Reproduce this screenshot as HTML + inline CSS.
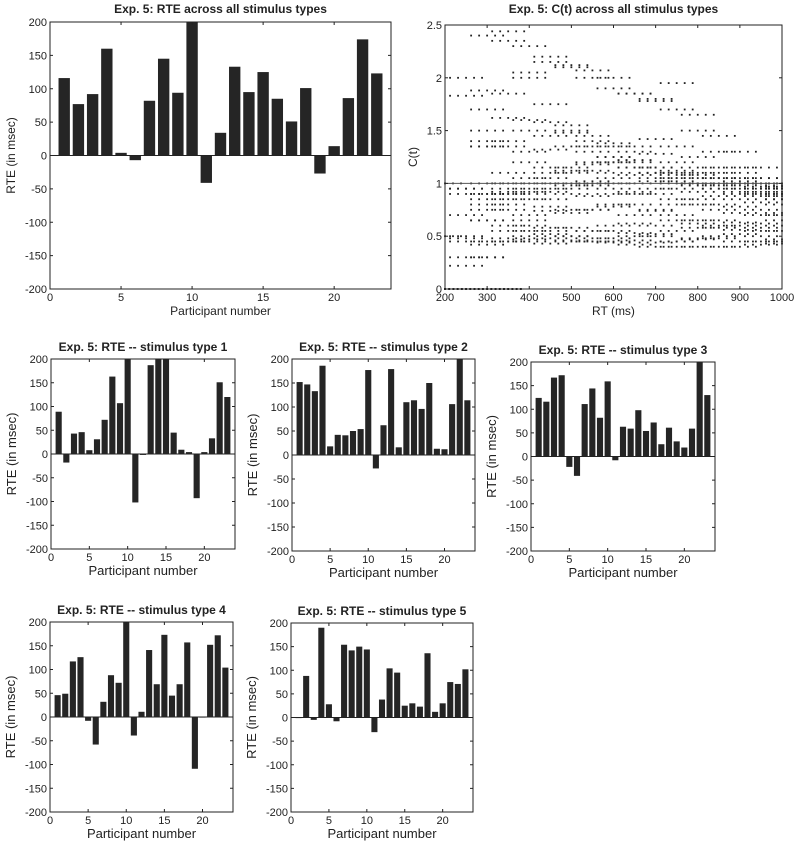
<!DOCTYPE html>
<html><head><meta charset="utf-8">
<style>
body{margin:0;background:#fff;}
svg{display:block;font-family:"Liberation Sans",Arial,sans-serif;}
</style></head>
<body>
<svg id="fig" width="800" height="851" viewBox="0 0 800 851" xmlns="http://www.w3.org/2000/svg"></svg>
<script>
const participants = [1,2,3,4,5,6,7,8,9,10,11,12,13,14,15,16,17,18,19,20,21,22,23];
const rteAll = [116,77,92,160,4,-7,82,145,94,200,-41,34,133,95,125,85,51,101,-27,14,86,174,123];
const rteType1 = [89,-18,43,46,8,31,72,163,107,200,-102,-2,187,200,200,45,9,4,-93,4,33,151,120];
const rteType2 = [152,147,133,186,18,42,41,50,54,177,-28,62,179,16,110,114,96,150,13,12,106,200,114];
const rteType3 = [124,116,167,172,-22,-41,111,144,82,159,-8,63,59,98,54,72,26,61,32,19,59,200,130];
const rteType4 = [46,49,117,126,-8,-58,32,88,72,200,-39,11,141,69,173,45,69,157,-109,0,152,172,104];
const rteType5 = [0,88,-5,190,28,-8,154,142,150,144,-31,38,104,95,25,30,23,136,12,30,75,71,102];
const rteTicks = [-200,-150,-100,-50,0,50,100,150,200];
const partTicks = [0,5,10,15,20];

const rtValues = [200,250,300,350,400,450,500,550,600,650,700,750,800,850,900,950,1000];
const ctA = [0.5,0.48,0.42,0.45,0.47,0.48,0.46,0.45,0.44,0.42,0.40,0.40,0.40,0.40,0.40,0.42,0.43];
const ctB = [null,0.3,0.3,0.45,0.5,0.52,0.5,0.48,0.48,0.5,0.5,0.45,0.47,0.5,0.52,0.5,0.47];
const ctC = [null,0.7,0.65,0.6,0.55,0.58,0.58,0.55,0.55,0.53,0.52,0.55,0.58,0.58,0.56,0.55,0.55];
const ctD = [null,0.9,0.8,0.75,0.7,0.74,0.75,0.75,0.78,0.8,0.74,0.7,0.65,0.65,0.63,0.62,0.65];
const ctE = [1,0.95,0.9,0.9,0.85,0.85,0.9,0.88,0.9,0.92,0.9,0.85,0.8,0.75,0.72,0.7,0.7];
const ctF = [null,1.83,1.4,1.0,0.92,0.95,0.98,1.0,0.95,0.9,0.95,0.95,0.92,0.88,0.85,0.82,0.8];
const ctG = [null,null,1.5,1.35,1.3,1.32,1.35,1.3,1.25,1.2,1.15,1.12,1.08,1.05,1.0,0.97,0.92];
const ctH = [null,null,1.35,1.4,1.5,1.45,1.48,1.4,1.38,1.35,1.42,1.35,1.25,1.15,1.1,1.05,0.95];
const ctI = [null,2.0,1.88,1.85,2.0,1.75,1.55,1.35,1.25,1.22,1.1,1.05,1.0,0.98,0.95,0.92,0.85];
const ctJ = [null,null,2.4,2.44,2.3,2.2,2.1,2.07,1.9,1.85,1.8,1.7,1.5,1.3,1.15,1.05,0.97];
const ctK = [null,null,null,2.35,2.05,2.15,2.12,2.0,2.0,1.85,1.78,1.95,1.65,1.45,1.3,1.15,1.0];
const ctL = [null,null,1.35,1.1,1.2,1.15,1.12,1.18,1.2,1.22,1.15,1.1,1.05,1.05,1.02,1.0,0.98];
const ctM = [null,0.45,0.65,0.9,1.0,1.05,1.1,1.12,1.1,1.15,1.1,1.05,1.0,0.95,0.9,0.88,0.85];
const ctN = [null,0.22,0.3,0.55,0.65,0.78,0.72,0.75,0.8,0.7,0.75,0.8,0.85,0.8,0.78,0.75,0.72];
const ctO = [null,0.95,0.85,0.92,0.95,1.0,1.0,1.02,1.05,1.08,1.05,1.02,1.0,1.0,0.98,0.95,0.95];
const ctP = [null,null,1.7,1.62,1.6,1.58,1.5,1.45,1.35,1.3,1.28,1.2,1.15,1.1,1.05,1.0,0.9];
const ctQ = [null,null,1.0,0.8,0.6,0.55,0.5,0.55,0.6,0.62,0.6,0.65,0.62,0.6,0.6,0.58,0.6];
const ctR = [null,0.5,0.45,0.48,0.45,0.43,0.45,0.45,0.45,0.46,0.44,0.45,0.48,0.48,0.45,0.45,0.45];
const ctS = [null,null,0.9,0.95,1.05,1.1,1.15,1.2,1.2,1.15,1.1,1.08,1.1,1.05,1.0,0.95,0.9];
const ctT = [null,null,0.75,0.85,0.9,0.92,0.95,0.98,1.0,1.0,1.02,1.0,0.98,0.95,0.92,0.9,0.88];
const zeroRT = [200,210,220,230,240,250,260,270,280,290,300,310,320,330,340,350,360,370,380];
const rtTicks = [200,300,400,500,600,700,800,900,1000];
const ctTicks = [0,0.5,1,1.5,2,2.5];

const NS = "http://www.w3.org/2000/svg";
const fig = document.getElementById('fig');
function mk(tag, attrs, parent){
  const e = document.createElementNS(NS, tag);
  for (const k in attrs) e.setAttribute(k, attrs[k]);
  (parent||fig).appendChild(e);
  return e;
}
function txt(s, attrs, parent){ const t = mk('text', attrs, parent); t.textContent = s; return t; }

function axesFrame(g, L, T, R, B, xs, ys, xticks, yticks, xfmt, yfmt, fs){
  const fr = mk('rect', {x:L, y:T, width:R-L, height:B-T, fill:'none', stroke:'#222', 'stroke-width':1}, g);
  
  
  xticks.forEach(v => {
    const x = xs(v);
    mk('line', {x1:x, y1:B, x2:x, y2:B-3, stroke:'#222'}, g);
    mk('line', {x1:x, y1:T, x2:x, y2:T+3, stroke:'#222'}, g);
    const t = txt(xfmt(v), {x:x, y:B+12, 'text-anchor':'middle', 'font-size':fs, fill:'#222'}, g);
    
    
  });
  yticks.forEach(v => {
    const y = ys(v);
    mk('line', {x1:L, y1:y, x2:L+3, y2:y, stroke:'#222'}, g);
    mk('line', {x1:R, y1:y, x2:R-3, y2:y, stroke:'#222'}, g);
    const t = txt(yfmt(v), {x:L-3, y:y+4, 'text-anchor':'end', 'font-size':fs, fill:'#222'}, g);
    
    
  });
}

function barChart(name, title, values, L, T, R, B, big){
  const g = mk('g', {});
  
  
  const xs = v => L + (v/24)*(R-L);
  const ys = v => T + (200 - v)/400*(B-T);
  values.forEach((v, i) => {
    const p = participants[i];
    const x0 = xs(p-0.4), x1 = xs(p+0.4);
    const y0 = ys(Math.max(v,0)), y1 = ys(Math.min(v,0));
    const r = mk('rect', {x:x0, y:y0, width:x1-x0, height:Math.max(y1-y0,0.6), fill:'#252525'}, g);
    
    
  });
  mk('line', {x1:L, y1:ys(0), x2:R, y2:ys(0), stroke:'#222'}, g);
  axesFrame(g, L, T, R, B, xs, ys, partTicks, rteTicks, v=>String(v), v=>String(v), 11);
  const tt = txt(title, {x:(L+R)/2, y:big ? T-9 : T-8, 'text-anchor':'middle', 'font-size':12, 'font-weight':'bold', fill:'#222'}, g);
  
  
  const xl = txt('Participant number', {x:(L+R)/2, y:B+26, 'text-anchor':'middle', 'font-size':big?12:13, fill:'#222'}, g);
  
  
  const yx = L - 35, yy = (T+B)/2;
  const yl = txt('RTE (in msec)', {x:yx, y:yy, 'text-anchor':'middle', 'font-size':big?12:13, fill:'#222', transform:`rotate(-90 ${yx} ${yy})`}, g);
  
  
}

barChart('rte-all-chart', 'Exp. 5: RTE across all stimulus types', rteAll, 50, 22, 391, 289, true);
barChart('rte-type1-chart', 'Exp. 5: RTE -- stimulus type 1', rteType1, 51, 359, 235, 549, false);
barChart('rte-type2-chart', 'Exp. 5: RTE -- stimulus type 2', rteType2, 292, 359, 475, 551, false);
barChart('rte-type3-chart', 'Exp. 5: RTE -- stimulus type 3', rteType3, 531, 362, 715, 551, false);
barChart('rte-type4-chart', 'Exp. 5: RTE -- stimulus type 4', rteType4, 50, 622, 233, 812, false);
barChart('rte-type5-chart', 'Exp. 5: RTE -- stimulus type 5', rteType5, 291, 623, 473, 812, false);

(function(){
  const L=445, T=25, R=782, B=289;
  const g = mk('g', {});
  
  
  const xs = v => L + (v-200)/800*(R-L);
  const ys = v => B - v/2.5*(B-T);
  const curves = [ctA,ctB,ctC,ctD,ctE,ctF,ctG,ctH,ctI,ctJ,ctK,ctL,ctM,ctN,ctO,ctP,ctQ,ctR,ctS,ctT];
  // each sample is drawn as a short dotted run (marker style) to mimic the dense dot trails
  const runDx = [-16,-8,0,8,16];
  curves.forEach((c, ci) => {
    c.forEach((v, i) => {
      if (v === null) return;
      runDx.forEach(dx => {
        const x = xs(rtValues[i]) + dx;
        if (x < L || x > R) return;
        const d = mk('rect', {x:x-0.9, y:ys(v)-0.9, width:1.8, height:1.8, fill:'#222'}, g);
        
        
      });
    });
  });
  zeroRT.forEach(r => {
    const d = mk('rect', {x:xs(r)-1, y:ys(0)-1, width:2, height:2, fill:'#222'}, g);
    
    
  });
  const ref = mk('line', {x1:L, y1:ys(1), x2:R, y2:ys(1), stroke:'#555', 'stroke-width':1}, g);
  
  
  axesFrame(g, L, T, R, B, xs, ys, rtTicks, ctTicks, v=>String(v), v=>String(v), 11);
  const tt = txt('Exp. 5: C(t) across all stimulus types', {x:(L+R)/2, y:T-12, 'text-anchor':'middle', 'font-size':12, 'font-weight':'bold', fill:'#222'}, g);
  
  
  const xl = txt('RT (ms)', {x:(L+R)/2, y:B+26, 'text-anchor':'middle', 'font-size':12, fill:'#222'}, g);
  
  
  const yx = L-28, yy=(T+B)/2;
  const yl = txt('C(t)', {x:yx, y:yy, 'text-anchor':'middle', 'font-size':12, fill:'#222', transform:`rotate(-90 ${yx} ${yy})`}, g);
  
  
})();
</script>
</body></html>
